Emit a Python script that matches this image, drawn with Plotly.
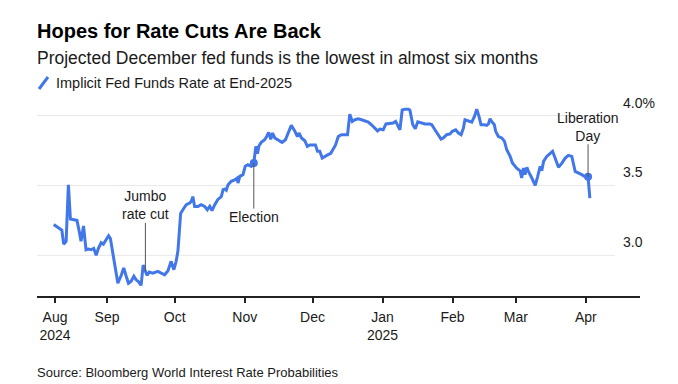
import pandas as pd
import plotly.graph_objects as go

# ---------------- data ----------------
START_DATE = "2024-08-01"
# days since START_DATE of each vertex
day_offsets = [7.4, 9.9, 11, 11.8, 12.9, 13.9, 14.8, 16.3, 17.7, 18.6, 19.5, 20.6, 21.7, 22.8, 23.9,
               25.1, 26.2, 27.2, 28.4, 29.4, 30.6, 31.7, 32.5, 33.6, 34.6, 35.8, 37.3, 38.4, 39.5, 40.5,
               41.7, 42.9, 43.9, 45, 46.1, 47, 48, 48.8, 49.7, 51.3, 53.5, 56.5, 58, 59.4, 60.6,
               61.6, 62.4, 63.6, 64.6, 66.1, 67.6, 68.3, 69, 69.8, 71.3, 72.7, 74.2, 75.4, 76.5, 77.5,
               78.7, 80.1, 81.6, 82.4, 83.1, 83.8, 84.6, 86, 87.5, 88.6, 89, 89.8, 91.2, 92.2, 93.4,
               94.9, 96, 96.9, 97.6, 98.3, 99.3, 100.8, 101.7, 102.6, 103.5, 104.3, 105.3, 106.7, 108.5,
               110, 111.2, 112.6, 114.1, 115.3, 116, 117.1, 118.6, 119.7, 120.8, 122.3, 123.3, 124.2,
               125.2, 126.3, 127.4, 128.9, 130.1, 131.1, 132.2, 133.4, 134.8, 136.3, 137.5, 138.5,
               139.6, 140.8, 142.2, 143.7, 145.2, 146.7, 148.1, 149.6, 150.8, 151.8, 153.3, 154.5,
               156.3, 157.7, 158.8, 159.6, 160.7, 161.7, 162.9, 164.4, 165.1, 166.4, 167.5, 168.6,
               170.3, 171.8, 174, 174.8, 176.2, 177.7, 178.9, 179.9, 181.4, 182.9, 183.9, 185.4,
               186.6, 187.8, 188.8, 189.5, 191, 192.5, 193.7, 194.7, 195.7, 196.6, 198.1, 199.1,
               199.9, 200.6, 201.3, 202.5, 203.1, 204.3, 205.8, 207, 208, 208.7, 209.5, 210.5,
               211.7, 212.4, 213.9, 214.6, 215.4, 216.1, 216.9, 217.6, 219.1, 220.6, 221.7, 222.8,
               223.5, 224.3, 225.7, 227.2, 228.3, 229.4, 230.9, 232.4, 233.9, 235.3, 236.8, 238.3,
               239.8, 241.2, 242.4, 244, 244.8]
rate_values = [3.22, 3.195, 3.18, 3.08, 3.10, 3.505, 3.26, 3.255, 3.25, 3.18, 3.10, 3.21, 3.04, 3.045, 3.04,
               3.05, 3.00, 3.05, 3.09, 3.08, 3.11, 3.14, 3.12, 3.005, 2.93, 2.80, 2.857, 2.91, 2.85, 2.80,
               2.814, 2.85, 2.825, 2.81, 2.785, 2.93, 2.885, 2.857, 2.88, 2.873, 2.885, 2.861, 2.89, 2.957, 2.897,
               2.957, 3.03, 3.30, 3.326, 3.362, 3.374, 3.386, 3.42, 3.35, 3.35, 3.362, 3.35, 3.326, 3.35, 3.32,
               3.362, 3.40, 3.42, 3.47, 3.474, 3.465, 3.505, 3.53, 3.54, 3.553, 3.517, 3.565, 3.577, 3.637, 3.648,
               3.637, 3.66, 3.78, 3.727, 3.784, 3.808, 3.827, 3.85, 3.88, 3.83, 3.875, 3.84, 3.827, 3.808,
               3.827, 3.875, 3.93, 3.89, 3.85, 3.875, 3.84, 3.82, 3.78, 3.79, 3.787, 3.79, 3.744,
               3.744, 3.696, 3.708, 3.72, 3.73, 3.755, 3.79, 3.85, 3.863, 3.863, 3.863, 4.01,
               3.958, 3.97, 3.977, 3.97, 3.963, 3.953, 3.934, 3.91, 3.89, 3.903, 3.898, 3.94,
               3.944, 3.946, 3.958, 3.934, 3.898, 4.04, 4.046, 4.046, 4.04, 3.934, 3.906, 3.955,
               3.946, 3.94, 3.94, 3.934, 3.898, 3.863, 3.832, 3.84, 3.863, 3.868, 3.887, 3.898,
               3.875, 3.863, 3.91, 3.97, 3.963, 3.953, 3.994, 4.046, 3.994, 3.934, 3.934, 3.93,
               3.94, 3.977, 3.958, 3.934, 3.887, 3.85, 3.84, 3.815, 3.755, 3.737, 3.708, 3.66,
               3.637, 3.624, 3.605, 3.553, 3.624, 3.577, 3.63, 3.60, 3.553, 3.50, 3.565, 3.637,
               3.605, 3.672, 3.708, 3.732, 3.744, 3.696, 3.63, 3.66, 3.696, 3.715, 3.708, 3.60,
               3.59, 3.577, 3.565, 3.562, 3.41]

event_labels = ["Jumbo<br>rate cut", "Election", "Liberation<br>Day"]
event_dates = ["2024-09-18", "2024-11-05", "2025-04-02"]
event_values = [2.885, 3.66, 3.562]
event_has_dot = [False, True, True]
event_offset_px = [-66, 54, -50]

x_tick_vals = ["2024-08-09", "2024-09-01", "2024-10-01", "2024-11-01", "2024-12-01",
               "2025-01-01", "2025-02-01", "2025-03-01", "2025-04-01"]
x_tick_text = ["Aug<br>2024", "Sep", "Oct", "Nov", "Dec", "Jan<br>2025", "Feb", "Mar", "Apr"]
y_tick_vals = [3.0, 3.5, 4.0]
y_tick_text = ["3.0", "3.5", "4.0%"]

TITLE = "Hopes for Rate Cuts Are Back"
SUBTITLE = "Projected December fed funds is the lowest in almost six months"
SERIES_NAME = "Implicit Fed Funds Rate at End-2025"
SOURCE = "Source: Bloomberg World Interest Rate Probabilities"

# ---------------- style ----------------
BLUE = "#4177e8"
TEXT = "#1a1a1a"
GRID = "#e8e8e8"
FONT = "Liberation Sans, Arial, sans-serif"
W, H = 678, 384
L, R, T, B = 29, 46, 94, 96
PW, PH = W - L - R, H - T - B


def xp(px):
    return (px - L) / PW


def yp(py):
    return (H - B - py) / PH


dates = pd.Timestamp(START_DATE) + pd.to_timedelta(day_offsets, unit="D")

fig = go.Figure()
fig.add_trace(go.Scatter(x=dates, y=rate_values, mode="lines", name=SERIES_NAME,
                         line=dict(color=BLUE, width=3), showlegend=False, hoverinfo="skip"))

dot_x = [d for d, f in zip(event_dates, event_has_dot) if f]
dot_y = [v for v, f in zip(event_values, event_has_dot) if f]
fig.add_trace(go.Scatter(x=dot_x, y=dot_y, mode="markers", showlegend=False,
                         marker=dict(color=BLUE, size=8), hoverinfo="skip"))

annotations = []
for lab, d, v, off in zip(event_labels, event_dates, event_values, event_offset_px):
    annotations.append(dict(x=d, y=v, xref="x", yref="y", text=lab, showarrow=True,
                            arrowhead=0, arrowwidth=1, arrowcolor="#555555", ax=0, ay=off,
                            font=dict(family=FONT, size=14, color=TEXT), align="center",
                            borderpad=0))

for v, t in zip(y_tick_vals, y_tick_text):
    annotations.append(dict(x=xp(613), y=v, xref="paper", yref="y", text=t, showarrow=False,
                            xanchor="left", yanchor="middle", yshift=13,
                            font=dict(family=FONT, size=14, color=TEXT)))

annotations += [
    dict(x=xp(27), y=yp(23), xref="paper", yref="paper", text="<b>" + TITLE + "</b>",
         showarrow=False, xanchor="left", yanchor="middle",
         font=dict(family=FONT, size=20, color="#000000")),
    dict(x=xp(27), y=yp(50), xref="paper", yref="paper", text=SUBTITLE,
         showarrow=False, xanchor="left", yanchor="middle",
         font=dict(family=FONT, size=17.5, color=TEXT)),
    dict(x=xp(46), y=yp(75), xref="paper", yref="paper", text=SERIES_NAME,
         showarrow=False, xanchor="left", yanchor="middle",
         font=dict(family=FONT, size=14.5, color=TEXT)),
    dict(x=xp(27), y=yp(364), xref="paper", yref="paper", text=SOURCE,
         showarrow=False, xanchor="left", yanchor="middle",
         font=dict(family=FONT, size=13, color=TEXT)),
]

shapes = []
for v in y_tick_vals:
    shapes.append(dict(type="line", xref="paper", yref="y", x0=0, x1=xp(607), y0=v, y1=v,
                       line=dict(color=GRID, width=1), layer="below"))
shapes.append(dict(type="line", xref="paper", yref="paper", x0=xp(31), y0=yp(81),
                   x1=xp(40), y1=yp(69), line=dict(color=BLUE, width=3)))

fig.update_layout(
    width=W, height=H, margin=dict(l=L, r=R, t=T, b=B, pad=0),
    paper_bgcolor="white", plot_bgcolor="white",
    annotations=annotations, shapes=shapes, showlegend=False,
    xaxis=dict(type="date", range=["2024-08-01", "2025-04-25"], tickvals=x_tick_vals,
               ticktext=x_tick_text, showgrid=False, zeroline=False, showline=True,
               linecolor="#222222", linewidth=1.5, ticks="outside", ticklen=5, tickwidth=1.5,
               tickcolor="#222222", ticklabelstandoff=2,
               tickfont=dict(family=FONT, size=14, color=TEXT)),
    yaxis=dict(range=[2.709, 4.097], showgrid=False, zeroline=False, showticklabels=False,
               showline=False, ticks=""),
)

fig.write_html("out.html")
